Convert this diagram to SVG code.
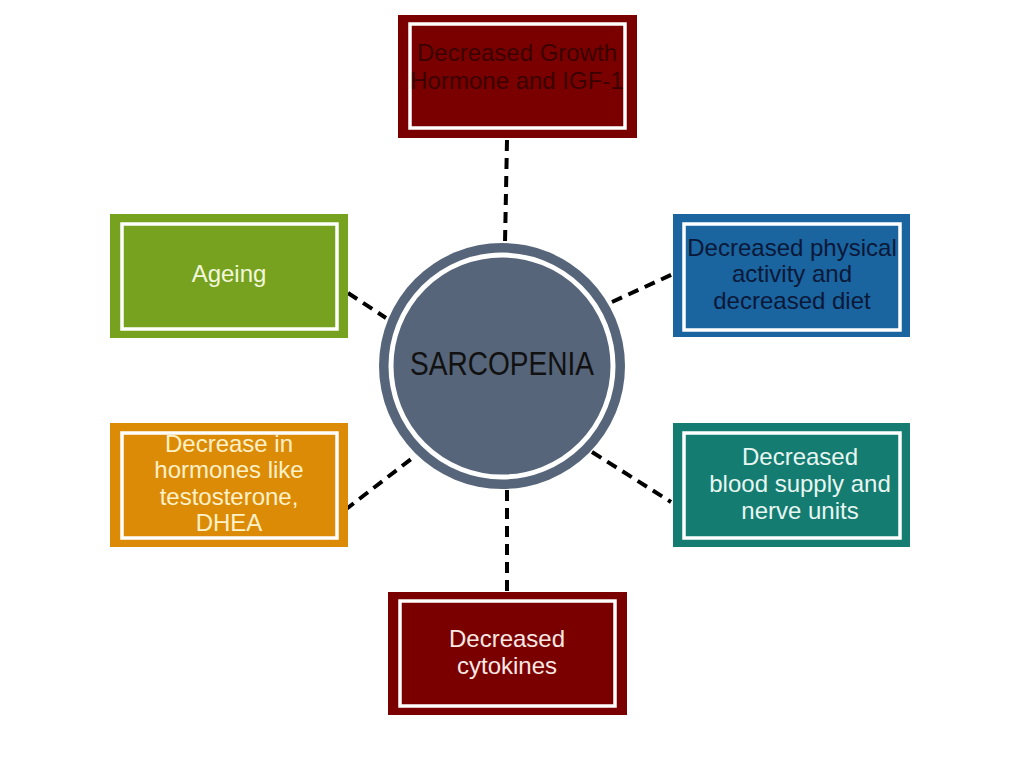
<svg xmlns="http://www.w3.org/2000/svg" width="1024" height="768" viewBox="0 0 1024 768">
<style>
.inner{fill:none;stroke:#ffffff;stroke-width:3.5}
.t{font-family:"Liberation Sans",Arial,sans-serif;font-size:24px;text-anchor:middle}
.conn{stroke:#000;stroke-width:4;stroke-dasharray:11 7;fill:none}
</style>
<rect width="1024" height="768" fill="#ffffff"/>
<g id="connectors">
<line class="conn" x1="507" y1="140" x2="505" y2="243"/>
<line class="conn" x1="348" y1="293" x2="386" y2="318"/>
<line class="conn" x1="612" y1="302" x2="673" y2="274"/>
<line class="conn" x1="345" y1="510" x2="415" y2="456"/>
<line class="conn" x1="592" y1="452" x2="671" y2="502"/>
<line class="conn" x1="507" y1="490" x2="507" y2="592"/>
</g>
<g id="center">
<circle cx="502" cy="366" r="123" fill="#566579"/>
<circle cx="502" cy="366" r="111" fill="none" stroke="#ffffff" stroke-width="5"/>
<text x="502" y="375" font-family="'Liberation Sans',Arial,sans-serif" font-size="33" fill="#111111" text-anchor="middle" textLength="184" lengthAdjust="spacingAndGlyphs">SARCOPENIA</text>
</g>
<g id="node-growth">
<rect x="398" y="15" width="239" height="123" fill="#7a0000"/>
<rect class="inner" x="410" y="24" width="215" height="104"/>
<text class="t" fill="#3a0000" x="517" y="61">Decreased Growth</text>
<text class="t" fill="#3a0000" x="517" y="89">Hormone and IGF-1</text>
</g>
<g id="node-ageing">
<rect x="110" y="214" width="238" height="124" fill="#77a21f"/>
<rect class="inner" x="122" y="224" width="215" height="105"/>
<text class="t" fill="#f2f7dc" x="229" y="282">Ageing</text>
</g>
<g id="node-physical">
<rect x="673" y="214" width="237" height="123" fill="#1a64a0"/>
<rect class="inner" x="684" y="224" width="216" height="106"/>
<text class="t" fill="#0a1838" x="792" y="256">Decreased physical</text>
<text class="t" fill="#0a1838" x="792" y="282">activity and</text>
<text class="t" fill="#0a1838" x="792" y="309">decreased diet</text>
</g>
<g id="node-hormones">
<rect x="110" y="423" width="238" height="124" fill="#dc8b06"/>
<rect class="inner" x="122" y="433" width="215" height="105"/>
<text class="t" fill="#fff1c8" x="229" y="452">Decrease in</text>
<text class="t" fill="#fff1c8" x="229" y="478">hormones like</text>
<text class="t" fill="#fff1c8" x="229" y="505">testosterone,</text>
<text class="t" fill="#fff1c8" x="229" y="531">DHEA</text>
</g>
<g id="node-blood">
<rect x="673" y="423" width="237" height="124" fill="#147c70"/>
<rect class="inner" x="684" y="433" width="216" height="105"/>
<text class="t" fill="#e8f6f2" x="800" y="465">Decreased</text>
<text class="t" fill="#e8f6f2" x="800" y="492">blood supply and</text>
<text class="t" fill="#e8f6f2" x="800" y="519">nerve units</text>
</g>
<g id="node-cytokines">
<rect x="388" y="592" width="239" height="123" fill="#7a0000"/>
<rect class="inner" x="400" y="601" width="215" height="105"/>
<text class="t" fill="#fbe8e4" x="507" y="647">Decreased</text>
<text class="t" fill="#fbe8e4" x="507" y="674">cytokines</text>
</g>
</svg>
